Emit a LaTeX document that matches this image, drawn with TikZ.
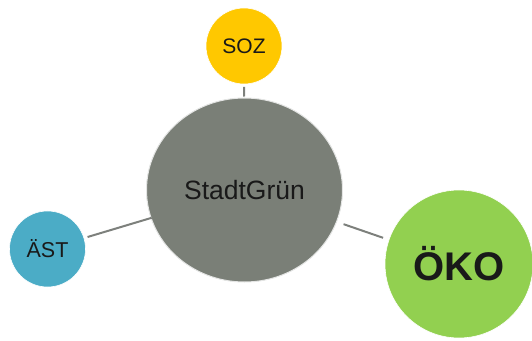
\documentclass[tikz,border=0pt]{standalone}
\usepackage{fontspec}
\setmainfont{Liberation Sans}
\usetikzlibrary{shapes.geometric}
\definecolor{hubgray}{RGB}{122,127,119}
\definecolor{sozyellow}{RGB}{255,200,0}
\definecolor{astblue}{RGB}{75,172,198}
\definecolor{okogreen}{RGB}{146,208,80}
\definecolor{conngray}{RGB}{125,128,124}
\definecolor{txt}{RGB}{25,25,25}
\tikzset{
  bubble/.style={circle, inner sep=0pt, text=txt, draw=white, line width=0.6pt},
  conn/.style={draw=conngray, line width=2pt}
}
\begin{document}
\begin{tikzpicture}[x=1pt,y=1pt]
\useasboundingbox (0,0) rectangle (532,340);
\node[ellipse, fill=hubgray, draw=white!80!hubgray, line width=1pt, minimum width=196pt, minimum height=184pt, inner sep=0pt, text=txt, font=\fontsize{26.5}{30}\selectfont] (hub) at (244.5,150) {StadtGrün};
\node[bubble, fill=sozyellow, minimum size=76pt, font=\fontsize{21}{24}\selectfont] (soz) at (244,294) {SOZ};
\node[bubble, fill=astblue, minimum size=76pt, font=\fontsize{21.5}{24}\selectfont] (ast) at (47.5,91) {ÄST};
\node[bubble, fill=okogreen, minimum size=148pt, font=\fontsize{40}{44}\selectfont\bfseries] (oko) at (459,76) {ÖKO};
\draw[conn, shorten <=2.5pt, shorten >=1pt] (soz) -- (hub);
\draw[conn, shorten <=3.5pt, shorten >=-1pt] (ast) -- (hub);
\draw[conn, shorten <=6pt, shorten >=7pt] (oko) -- (hub);
\end{tikzpicture}
\end{document}
